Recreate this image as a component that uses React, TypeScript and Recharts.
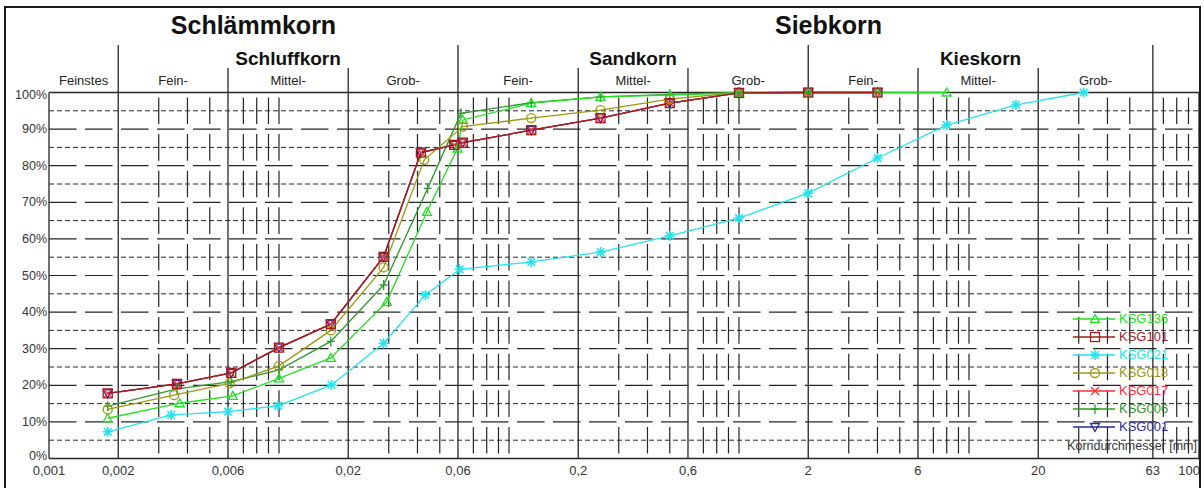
import React from 'react';
import { LineChart, Line, XAxis, YAxis, ReferenceLine, ReferenceArea, Legend } from 'recharts';

// axis ticks (grain diameter in mm, passing in %)
const X_TICKS = [0.001, 0.002, 0.006, 0.02, 0.06, 0.2, 0.6, 2, 6, 20, 63, 100];
const Y_TICKS = [0, 10, 20, 30, 40, 50, 60, 70, 80, 90, 100];

// grid: class limits (solid) and log subdivisions (broken)
const MAJOR_X = [0.002, 0.006, 0.02, 0.06, 0.2, 0.6, 2, 6, 20, 63];
const TALL_X = [0.002, 0.06, 2, 63];
const MINOR_X = [
  0.003, 0.004, 0.005, 0.007, 0.008, 0.009, 0.01,
  0.03, 0.04, 0.05, 0.07, 0.08, 0.09, 0.1,
  0.3, 0.4, 0.5, 0.7, 0.8, 0.9, 1,
  3, 4, 5, 7, 8, 9, 10,
  30, 40, 50, 70, 80, 90,
];
const H_TEN = [10, 20, 30, 40, 50, 60, 70, 80, 90];
const H_FIVE = [5, 15, 25, 35, 45, 55, 65, 75, 85, 95];

// header classes
const TOP_CLASSES = [
  { name: 'Schlämmkorn', from: 0.001, to: 0.06 },
  { name: 'Siebkorn', from: 0.06, to: 100 },
];
const MID_CLASSES = [
  { name: 'Schluffkorn', from: 0.002, to: 0.06 },
  { name: 'Sandkorn', from: 0.06, to: 2 },
  { name: 'Kieskorn', from: 2, to: 63 },
];
const SUB_CLASSES = [
  { name: 'Feinstes', from: 0.001, to: 0.002 },
  { name: 'Fein-', from: 0.002, to: 0.006 },
  { name: 'Mittel-', from: 0.006, to: 0.02 },
  { name: 'Grob-', from: 0.02, to: 0.06 },
  { name: 'Fein-', from: 0.06, to: 0.2 },
  { name: 'Mittel-', from: 0.2, to: 0.6 },
  { name: 'Grob-', from: 0.6, to: 2 },
  { name: 'Fein-', from: 2, to: 6 },
  { name: 'Mittel-', from: 6, to: 20 },
  { name: 'Grob-', from: 20, to: 63 },
];

// samples: diameters [mm] and passing [%]
const KSG136_D = [0.0018, 0.0037, 0.0063, 0.01, 0.0168, 0.0294, 0.044, 0.0597, 0.063, 0.125, 0.25, 0.5, 1, 2, 4, 8];
const KSG136_P = [11.0, 15.1, 17.1, 21.9, 27.5, 42.8, 67.4, 84.7, 92.5, 97.1, 98.8, 99.3, 99.9, 100, 100, 100];

const KSG101_D = [0.0018, 0.0036, 0.0062, 0.01, 0.0168, 0.0285, 0.0414, 0.0578, 0.063, 0.125, 0.25, 0.5, 1, 2, 4];
const KSG101_P = [17.8, 20.4, 23.4, 30.3, 36.7, 55.1, 83.6, 85.7, 86.3, 89.7, 93.0, 97.1, 99.9, 100, 100];

const KSG021_D = [0.0018, 0.0034, 0.006, 0.0099, 0.0169, 0.0285, 0.0433, 0.061, 0.125, 0.25, 0.5, 1, 2, 4, 8, 16, 31.5];
const KSG021_P = [7.3, 11.9, 12.8, 14.4, 20.1, 31.5, 44.7, 51.7, 53.7, 56.4, 60.8, 65.7, 72.5, 82.1, 91.1, 96.6, 100];

const KSG018_D = [0.0018, 0.0035, 0.0061, 0.01, 0.0168, 0.0285, 0.0428, 0.063, 0.125, 0.25, 0.5, 1];
const KSG018_P = [13.4, 17.3, 20.5, 25.3, 35.0, 52.2, 81.6, 90.7, 93.0, 95.2, 98.2, 100];

// KSG017 and KSG001 plot on top of KSG101
const KSG017_D = KSG101_D;
const KSG017_P = KSG101_P;
const KSG001_D = KSG101_D;
const KSG001_P = KSG101_P;

const KSG006_D = [0.0018, 0.0036, 0.0062, 0.01, 0.0168, 0.0285, 0.0443, 0.0618, 0.125, 0.25, 0.5, 1, 2];
const KSG006_P = [14.3, 19.0, 21.0, 24.2, 32.0, 47.4, 73.8, 94.3, 97.2, 98.8, 99.5, 100, 100];

const zip = (d: number[], p: number[]) => d.map((v, i) => ({ d: v, p: p[i] }));

type Shape = 'triUp' | 'square' | 'star' | 'circle' | 'cross' | 'plus' | 'triDown';

const SERIES: { name: string; color: string; shape: Shape; data: { d: number; p: number }[] }[] = [
  { name: 'KSG136', color: '#22e022', shape: 'triUp', data: zip(KSG136_D, KSG136_P) },
  { name: 'KSG101', color: '#a01c1c', shape: 'square', data: zip(KSG101_D, KSG101_P) },
  { name: 'KSG021', color: '#22e4ee', shape: 'star', data: zip(KSG021_D, KSG021_P) },
  { name: 'KSG018', color: '#9a9a14', shape: 'circle', data: zip(KSG018_D, KSG018_P) },
  { name: 'KSG017', color: '#ff3030', shape: 'cross', data: zip(KSG017_D, KSG017_P) },
  { name: 'KSG006', color: '#2e9a2e', shape: 'plus', data: zip(KSG006_D, KSG006_P) },
  { name: 'KSG001', color: '#2a2a9a', shape: 'triDown', data: zip(KSG001_D, KSG001_P) },
];

// drawing order (later on top)
const DRAW_ORDER = ['KSG001', 'KSG017', 'KSG006', 'KSG018', 'KSG021', 'KSG136', 'KSG101'];

const FONT = '"Liberation Sans", Arial, sans-serif';
const GRID = '#262626';

// plot box in pixels, used to place the header above the 100% line
const PLOT_BOTTOM = 458.5;
const PX_PER_PCT = 3.66;
const pctAt = (px: number) => (PLOT_BOTTOM - px) / PX_PER_PCT;

function Mark({ cx, cy, shape, color }: { cx: number; cy: number; shape: Shape; color: string }) {
  const s = { fill: 'none', stroke: color, strokeWidth: 1.3 };
  switch (shape) {
    case 'triUp':
      return <polygon points={`${cx},${cy - 4.5} ${cx + 4.5},${cy + 3.5} ${cx - 4.5},${cy + 3.5}`} {...s} />;
    case 'triDown':
      return <polygon points={`${cx},${cy + 4.5} ${cx + 4.5},${cy - 3.5} ${cx - 4.5},${cy - 3.5}`} {...s} />;
    case 'square':
      return <rect x={cx - 4.5} y={cy - 4.5} width={9} height={9} {...s} />;
    case 'circle':
      return <circle cx={cx} cy={cy} r={4.5} {...s} />;
    case 'cross':
      return <path d={`M${cx - 4},${cy - 4}L${cx + 4},${cy + 4}M${cx - 4},${cy + 4}L${cx + 4},${cy - 4}`} {...s} />;
    case 'plus':
      return <path d={`M${cx},${cy - 5}L${cx},${cy + 5}M${cx - 4},${cy}L${cx + 4},${cy}`} {...s} />;
    case 'star':
      return (
        <path
          d={`M${cx},${cy - 5}L${cx},${cy + 5}M${cx - 5},${cy}L${cx + 5},${cy}M${cx - 3.8},${cy - 3.8}L${cx + 3.8},${cy + 3.8}M${cx - 3.8},${cy + 3.8}L${cx + 3.8},${cy - 3.8}`}
          {...s}
          strokeWidth={1.6}
        />
      );
  }
  return null;
}

const XTick = ({ x, y, payload }: any) => {
  const v = payload.value as number;
  const last = v === 100;
  return (
    <text x={last ? x + 1 : x} y={y + 12} textAnchor={last ? 'end' : 'middle'} dominantBaseline="central" fontSize={13} fill="#333" fontFamily={FONT}>
      {String(v).replace('.', ',')}
    </text>
  );
};

const YTick = ({ x, y, payload }: any) => {
  const v = payload.value as number;
  const dy = v === 0 ? -3 : v === 100 ? 2 : 0;
  return (
    <text x={x} y={y + dy} textAnchor="end" dominantBaseline="central" fontSize={12.5} fill="#333" fontFamily={FONT}>
      {v}%
    </text>
  );
};

const LegendBox = () => (
  <div style={{ position: 'relative', width: 140, height: 150, fontFamily: FONT }}>
    {SERIES.map((s, i) => (
      <div key={s.name} style={{ position: 'absolute', left: 13, top: i * 18, height: 18, display: 'flex', alignItems: 'center' }}>
        <svg width={46} height={18} style={{ display: 'block' }}>
          <line x1={0} y1={9} x2={42} y2={9} stroke={s.color} strokeWidth={1.3} />
          <Mark cx={22} cy={9} shape={s.shape} color={s.color} />
        </svg>
        <span style={{ fontSize: 13, lineHeight: '18px', color: s.color }}>{s.name}</span>
      </div>
    ))}
    <div style={{ position: 'absolute', right: 3, top: 128, fontSize: 12.5, lineHeight: '16px', color: '#333', whiteSpace: 'nowrap' }}>
      Korndurchmesser [mm]
    </div>
  </div>
);

export default function App() {
  const ordered = DRAW_ORDER.map((n) => SERIES.find((s) => s.name === n)!);
  return (
    <div style={{ position: 'relative', width: 1204, height: 488, background: '#fff', overflow: 'hidden' }}>
      <style>{'body{margin:0}'}</style>
      <LineChart width={1204} height={488} margin={{ top: 92.5, right: 5, bottom: 5.5, left: 5 }}>
        <XAxis
          dataKey="d"
          type="number"
          scale="log"
          domain={[0.001, 100]}
          allowDataOverflow
          ticks={X_TICKS}
          interval={0}
          tick={<XTick />}
          tickSize={0}
          tickMargin={0}
          tickLine={false}
          axisLine={{ stroke: GRID, strokeWidth: 1.3 }}
          height={24}
        />
        <YAxis
          type="number"
          domain={[0, 100]}
          ticks={Y_TICKS}
          interval={0}
          tick={<YTick />}
          tickSize={0}
          tickMargin={2}
          tickLine={false}
          axisLine={{ stroke: GRID, strokeWidth: 1.3 }}
          width={44}
        />

        {/* horizontal grid */}
        {H_FIVE.map((v) => (
          <ReferenceLine key={`h5-${v}`} segment={[{ x: 0.001, y: v }, { x: 100, y: v }]} stroke={GRID} strokeWidth={1} strokeDasharray="5 3" />
        ))}
        {H_TEN.map((v) => (
          <ReferenceLine key={`h10-${v}`} segment={[{ x: 0.001, y: v }, { x: 100, y: v }]} stroke={GRID} strokeWidth={1.2} strokeDasharray="27.5 8.5" />
        ))}

        {/* vertical grid */}
        {MINOR_X.map((v) => (
          <ReferenceLine
            key={`vm-${v}`}
            segment={[{ x: v, y: 0 }, { x: v, y: 100 }]}
            stroke={GRID}
            strokeWidth={1.2}
            strokeDasharray="26.6 10"
            strokeDashoffset={31.6}
          />
        ))}
        {MAJOR_X.map((v) => (
          <ReferenceLine
            key={`vM-${v}`}
            segment={[{ x: v, y: 0 }, { x: v, y: TALL_X.includes(v) ? pctAt(45) : pctAt(68) }]}
            stroke={GRID}
            strokeWidth={1.3}
            ifOverflow="visible"
          />
        ))}

        {/* frame of the plot */}
        <ReferenceLine segment={[{ x: 0.001, y: 100 }, { x: 100, y: 100 }]} stroke={GRID} strokeWidth={1.3} />
        <ReferenceLine segment={[{ x: 100, y: 0 }, { x: 100, y: 100 }]} stroke={GRID} strokeWidth={1.3} />

        {/* header classes */}
        {TOP_CLASSES.map((c) => (
          <ReferenceArea
            key={`t-${c.name}`}
            x1={c.from}
            x2={c.to}
            y1={pctAt(45)}
            y2={pctAt(5)}
            ifOverflow="visible"
            fillOpacity={0}
            strokeOpacity={0}
            label={{ value: c.name, position: 'center', fontSize: 25, fontWeight: 'bold', fill: '#111', fontFamily: FONT }}
          />
        ))}
        {MID_CLASSES.map((c) => (
          <ReferenceArea
            key={`m-${c.name}`}
            x1={c.from}
            x2={c.to}
            y1={pctAt(70)}
            y2={pctAt(46)}
            ifOverflow="visible"
            fillOpacity={0}
            strokeOpacity={0}
            label={{ value: c.name, position: 'center', fontSize: 19, fontWeight: 'bold', fill: '#111', fontFamily: FONT }}
          />
        ))}
        {SUB_CLASSES.map((c) => (
          <ReferenceArea
            key={`s-${c.from}`}
            x1={c.from}
            x2={c.to}
            y1={100}
            y2={pctAt(68)}
            ifOverflow="visible"
            fillOpacity={0}
            strokeOpacity={0}
            label={{ value: c.name, position: 'center', fontSize: 13, fill: '#222', fontFamily: FONT }}
          />
        ))}

        {ordered.map((s) => (
          <Line
            key={s.name}
            data={s.data}
            dataKey="p"
            name={s.name}
            type="linear"
            stroke={s.color}
            strokeWidth={1.3}
            isAnimationActive={false}
            dot={(p: any) => <Mark key={`${s.name}-${p.index}`} cx={p.cx} cy={p.cy} shape={s.shape} color={s.color} />}
            activeDot={false}
          />
        ))}

        <Legend
          layout="vertical"
          align="center"
          verticalAlign="middle"
          content={<LegendBox />}
          wrapperStyle={{ position: 'absolute', left: 1060, top: 310, width: 140, height: 150 }}
        />
      </LineChart>
      <div
        style={{
          position: 'absolute',
          left: 4,
          top: 6,
          width: 1193,
          height: 500,
          border: '2px solid #1a1a1a',
          pointerEvents: 'none',
        }}
      />
    </div>
  );
}
